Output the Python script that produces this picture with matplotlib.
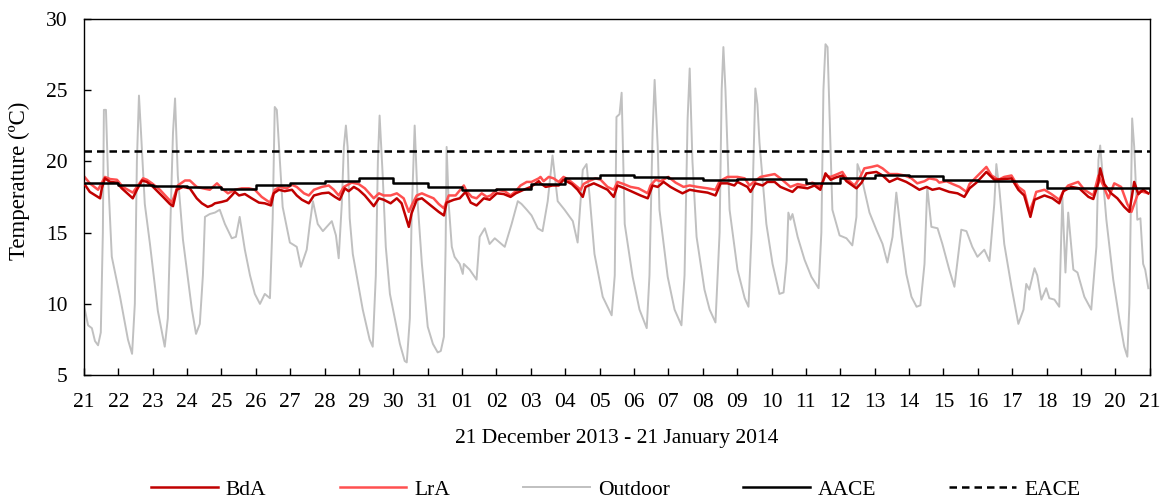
import matplotlib.pyplot as plt
import numpy as np

plt.rcParams["font.family"] = ["Liberation Serif", "DejaVu Serif"]

# time axis in days since 21 Dec 2013 00:00
tick_labels = ["21", "22", "23", "24", "25", "26", "27", "28", "29", "30", "31",
               "01", "02", "03", "04", "05", "06", "07", "08", "09", "10",
               "11", "12", "13", "14", "15", "16", "17", "18", "19", "20", "21"]

# Outdoor temperature (day, degC)
outdoor_day = [
    0.00, 0.12, 0.23, 0.32, 0.41, 0.49, 0.55, 0.58, 0.64, 0.70, 0.81, 1.05, 1.28, 1.40,
    1.48, 1.54, 1.60, 1.66, 1.77, 1.92, 2.15, 2.27, 2.35, 2.44, 2.53, 2.59, 2.65, 2.73,
    2.88, 3.14, 3.26, 3.37, 3.46, 3.52, 3.66, 3.81, 3.95, 4.10, 4.30, 4.42, 4.53, 4.68,
    4.83, 4.97, 5.12, 5.26, 5.41, 5.49, 5.55, 5.61, 5.70, 5.78, 5.99, 6.19, 6.31, 6.48,
    6.57, 6.66, 6.80, 6.95, 7.21, 7.33, 7.41, 7.50, 7.56, 7.62, 7.67, 7.73, 7.82, 8.11,
    8.31, 8.40, 8.49, 8.55, 8.60, 8.69, 8.78, 8.90, 9.19, 9.33, 9.39, 9.48, 9.53, 9.62,
    9.71, 9.83, 10.00, 10.15, 10.29, 10.38, 10.47, 10.52, 10.55, 10.61, 10.70, 10.78,
    10.93, 11.02, 11.05, 11.22, 11.42, 11.51, 11.66, 11.80, 11.95, 12.24, 12.44, 12.62,
    12.73, 12.88, 13.02, 13.20, 13.34, 13.49, 13.63, 13.78, 13.98, 14.22, 14.36, 14.51,
    14.62, 14.71, 14.85, 15.09, 15.35, 15.44, 15.49, 15.58, 15.64, 15.73, 15.96, 16.16,
    16.37, 16.45, 16.54, 16.60, 16.69, 16.74, 16.98, 17.18, 17.38, 17.47, 17.56, 17.62,
    17.70, 17.82, 18.05, 18.20, 18.37, 18.49, 18.55, 18.60, 18.66, 18.78, 19.01, 19.22,
    19.33, 19.42, 19.53, 19.59, 19.65, 19.85, 20.03, 20.23, 20.35, 20.44, 20.49, 20.55,
    20.61, 20.76, 20.96, 21.16, 21.37, 21.45, 21.51, 21.57, 21.63, 21.69, 21.77, 21.98,
    22.18, 22.35, 22.47, 22.50, 22.59, 22.70, 22.85, 23.05, 23.23, 23.37, 23.52, 23.63,
    23.78, 23.92, 24.07, 24.22, 24.33, 24.45, 24.53, 24.65, 24.83, 24.97, 25.17, 25.32,
    25.41, 25.52, 25.67, 25.84, 25.99, 26.19, 26.34, 26.48, 26.54, 26.63, 26.77, 26.98,
    27.18, 27.33, 27.41, 27.50, 27.65, 27.73, 27.85, 27.99, 28.08, 28.23, 28.37, 28.46,
    28.55, 28.63, 28.78, 28.90, 29.10, 29.30, 29.45, 29.51, 29.56, 29.74, 29.94, 30.12,
    30.26, 30.35, 30.41, 30.49, 30.55, 30.64, 30.73, 30.81, 30.87, 30.96]
outdoor_val = [
    9.9, 8.5, 8.3, 7.4, 7.1, 8.0, 15.0, 23.6, 23.6, 19.0, 13.3, 10.5, 7.5, 6.5,
    10.0, 20.0, 24.6, 22.0, 17.0, 14.2, 9.5, 8.0, 7.0, 9.0, 17.0, 22.0, 24.4, 19.0,
    14.5, 9.6, 7.9, 8.6, 12.0, 16.1, 16.3, 16.4, 16.6, 15.6, 14.6, 14.7, 16.1, 13.8,
    12.0, 10.7, 10.0, 10.7, 10.4, 16.0, 23.8, 23.6, 20.0, 16.8, 14.3, 14.0, 12.6, 13.8,
    15.6, 17.2, 15.6, 15.1, 15.8, 14.8, 13.2, 17.0, 21.0, 22.5, 21.0, 16.0, 13.5, 9.6,
    7.5, 7.0, 12.0, 20.0, 23.2, 19.0, 14.0, 10.7, 7.2, 6.0, 5.9, 9.0, 16.0, 22.5,
    17.0, 12.8, 8.4, 7.2, 6.6, 6.7, 7.7, 14.0, 21.0, 17.0, 14.0, 13.3,
    12.8, 12.1, 12.8, 12.4, 11.7, 14.7, 15.3, 14.2, 14.6, 14.0, 15.6, 17.2,
    17.0, 16.6, 16.2, 15.3, 15.1, 17.2, 20.4, 17.2, 16.6, 15.8, 14.3, 19.4,
    19.8, 17.5, 13.5, 10.5, 9.2, 12.0, 23.1, 23.3, 24.8, 15.6, 11.9, 9.6,
    8.3, 12.0, 22.0, 25.7, 21.0, 16.6, 11.9, 9.6, 8.5, 12.0, 23.0, 26.5,
    20.0, 14.7, 11.0, 9.6, 8.7, 15.0, 25.0, 28.0, 25.0, 16.6, 12.4, 10.4,
    9.8, 15.0, 25.1, 24.0, 21.3, 15.6, 12.8, 10.7, 10.8, 13.0, 16.4, 15.9,
    16.3, 14.7, 13.1, 11.9, 11.1, 15.0, 25.0, 28.2, 28.0, 23.0, 16.6, 14.8,
    14.6, 14.1, 16.1, 19.8, 19.2, 18.0, 16.4, 15.2, 14.2, 12.9, 14.7, 17.8,
    14.7, 12.1, 10.5, 9.8, 9.9, 12.8, 18.2, 15.4, 15.3, 14.2, 12.4, 11.2,
    13.0, 15.2, 15.1, 14.0, 13.3, 13.8, 13.0, 17.0, 19.8, 18.0, 14.2, 11.2,
    8.6, 9.6, 11.4, 11.0, 12.5, 12.0, 10.3, 11.1, 10.4, 10.3, 9.8, 17.5,
    12.2, 16.4, 12.4, 12.2, 10.5, 9.6, 14.0, 20.1, 21.1, 15.9, 11.7, 8.9,
    7.0, 6.3, 10.0, 23.0, 21.0, 15.9, 16.0, 12.8, 12.4, 11.1]

# LrA indoor temperature
lra_day = [
    0.00, 0.17, 0.41, 0.52, 0.61, 0.76, 0.96, 1.13, 1.42, 1.57, 1.72, 1.83, 1.98, 2.21,
    2.44, 2.56, 2.65, 2.73, 2.94, 3.08, 3.28, 3.46, 3.66, 3.87, 4.01, 4.19, 4.39, 4.59,
    4.80, 4.97, 5.17, 5.41, 5.55, 5.70, 5.90, 6.05, 6.19, 6.40, 6.54, 6.69, 6.92, 7.12,
    7.27, 7.41, 7.56, 7.79, 7.99, 8.17, 8.43, 8.58, 8.72, 8.92, 9.10, 9.30, 9.45, 9.53,
    9.68, 9.83, 9.97, 10.17, 10.32, 10.47, 10.61, 10.81, 11.05, 11.13, 11.28, 11.42,
    11.57, 11.72, 11.83, 12.01, 12.24, 12.41, 12.56, 12.70, 12.88, 13.02, 13.23, 13.28,
    13.37, 13.52, 13.66, 13.81, 13.95, 14.10, 14.30, 14.45, 14.53, 14.68, 14.88, 15.03,
    15.23, 15.41, 15.52, 15.70, 15.90, 16.13, 16.40, 16.48, 16.63, 16.77, 17.00, 17.21,
    17.44, 17.62, 17.85, 18.14, 18.37, 18.49, 18.72, 19.01, 19.22, 19.36, 19.51, 19.68,
    19.88, 20.09, 20.26, 20.55, 20.76, 20.96, 21.19, 21.42, 21.57, 21.72, 21.92, 22.06,
    22.18, 22.41, 22.56, 22.70, 22.91, 23.08, 23.23, 23.43, 23.66, 23.87, 24.07, 24.24,
    24.45, 24.59, 24.80, 24.88, 25.09, 25.27, 25.47, 25.67, 25.76, 25.96, 26.25, 26.40,
    26.60, 26.77, 26.98, 27.18, 27.35, 27.50, 27.62, 27.70, 27.94, 28.14, 28.37, 28.49,
    28.63, 28.92, 29.10, 29.36, 29.51, 29.65, 29.80, 29.97, 30.17, 30.35, 30.47, 30.64,
    30.73, 30.96]
lra_val = [
    18.95, 18.45, 18.0, 18.5, 18.9, 18.75, 18.7, 18.2, 17.8, 18.3, 18.8, 18.7, 18.45, 18.0,
    17.4, 17.1, 17.7, 18.3, 18.65, 18.65, 18.2, 18.1, 18.0, 18.45, 18.1, 17.75, 18.0, 18.1,
    18.1, 18.0, 17.5, 17.1, 18.0, 18.2, 18.1, 18.35, 18.2, 17.75, 17.6, 18.0, 18.2, 18.3,
    18.0, 17.6, 18.2, 18.5, 18.4, 18.1, 17.4, 17.75, 17.6, 17.6, 17.75, 17.4, 16.45, 16.9,
    17.6, 17.75, 17.6, 17.4, 17.0, 16.7, 17.6, 17.6, 18.3, 17.9, 17.5, 17.4,
    17.75, 17.5, 17.6, 18.0, 17.9, 17.6, 17.9, 18.3, 18.55, 18.55, 18.8, 18.9,
    18.6, 18.9, 18.8, 18.55, 18.9, 18.7, 18.3, 18.0, 18.4, 18.6, 18.8, 18.7,
    18.2, 18.0, 18.55, 18.4, 18.2, 18.1, 17.75, 18.3, 18.7, 18.6, 18.9, 18.5,
    18.2, 18.3, 18.2, 18.1, 18.0, 18.6, 18.9, 18.9, 18.8, 18.3, 18.6, 18.9,
    19.0, 19.1, 18.8, 18.2, 18.4, 18.3, 18.5, 18.2, 19.0, 18.9, 19.1, 19.25,
    18.8, 18.3, 18.8, 19.5, 19.6, 19.7, 19.5, 19.1, 19.1, 19.0, 18.8, 18.45,
    18.6, 18.8, 18.7, 18.5, 18.6, 18.4, 18.2, 17.85, 18.4, 18.9, 19.6, 19.0,
    18.7, 18.9, 19.0, 18.2, 17.9, 16.45, 17.2, 17.85, 18.0, 17.7, 17.3, 17.9,
    18.3, 18.55, 18.0, 17.6, 19.0, 18.3, 17.4, 18.45, 18.2, 17.0, 16.45, 17.6,
    17.9, 17.75]

# BdA indoor temperature
bda_day = [
    0.00, 0.17, 0.47, 0.52, 0.61, 0.76, 0.96, 1.10, 1.42, 1.54, 1.69, 1.83, 2.01, 2.30,
    2.50, 2.59, 2.70, 2.88, 3.08, 3.28, 3.43, 3.60, 3.72, 3.81, 4.01, 4.16, 4.30, 4.39,
    4.51, 4.68, 4.88, 5.09, 5.26, 5.44, 5.52, 5.67, 5.84, 6.05, 6.19, 6.34, 6.54, 6.69,
    6.92, 7.12, 7.30, 7.44, 7.59, 7.70, 7.85, 7.99, 8.17, 8.43, 8.58, 8.72, 8.92, 9.10,
    9.24, 9.45, 9.53, 9.68, 9.83, 10.09, 10.32, 10.47, 10.55, 10.76, 10.93, 11.10, 11.25,
    11.42, 11.63, 11.80, 12.01, 12.21, 12.41, 12.56, 12.79, 13.00, 13.23, 13.28, 13.43,
    13.63, 13.81, 13.95, 14.19, 14.36, 14.51, 14.59, 14.83, 14.97, 15.23, 15.41, 15.52,
    15.73, 15.96, 16.19, 16.40, 16.54, 16.69, 16.86, 17.06, 17.21, 17.41, 17.62, 17.85,
    18.14, 18.37, 18.52, 18.72, 18.92, 19.01, 19.30, 19.39, 19.53, 19.74, 19.88, 20.09,
    20.26, 20.61, 20.76, 21.05, 21.25, 21.42, 21.57, 21.72, 21.86, 22.06, 22.18, 22.47,
    22.62, 22.76, 23.05, 23.23, 23.43, 23.66, 23.92, 24.10, 24.30, 24.51, 24.68, 24.88,
    25.17, 25.41, 25.61, 25.76, 25.96, 26.25, 26.48, 26.77, 26.98, 27.18, 27.35, 27.53,
    27.65, 27.94, 28.17, 28.37, 28.49, 28.72, 28.95, 29.22, 29.36, 29.51, 29.56, 29.68,
    29.88, 30.06, 30.26, 30.41, 30.55, 30.67, 30.81, 30.96]
bda_val = [
    18.45, 17.85, 17.4, 18.1, 18.8, 18.55, 18.5, 18.1, 17.4, 18.0, 18.65, 18.55, 18.2, 17.5,
    17.0, 16.85, 18.0, 18.2, 18.1, 17.4, 17.05, 16.8, 16.9, 17.05, 17.15, 17.25, 17.6, 17.85,
    17.6, 17.7, 17.4, 17.1, 17.05, 16.9, 17.75, 18.0, 17.9, 18.0, 17.6, 17.3, 17.05, 17.6,
    17.75, 17.8, 17.5, 17.3, 18.1, 17.9, 18.2, 18.0, 17.6, 16.85, 17.4, 17.3, 17.05, 17.4,
    17.05, 15.4, 16.35, 17.3, 17.4, 16.9, 16.45, 16.2, 17.1, 17.3, 17.4, 17.85, 17.1,
    16.9, 17.4, 17.3, 17.75, 17.7, 17.5, 17.75, 18.0, 18.2, 18.6, 18.45, 18.2,
    18.3, 18.3, 18.7, 18.4, 18.0, 17.5, 18.2, 18.45, 18.3, 18.0, 17.5, 18.3,
    18.1, 17.85, 17.6, 17.4, 18.3, 18.2, 18.55, 18.2, 18.0, 17.75, 18.0, 17.9,
    17.8, 17.6, 18.45, 18.45, 18.3, 18.55, 18.2, 17.85, 18.45, 18.3, 18.55, 18.55,
    18.2, 17.85, 18.2, 18.1, 18.3, 18.0, 19.15, 18.7, 18.85, 19.0, 18.6, 18.1,
    18.5, 19.15, 19.25, 19.0, 18.55, 18.8, 18.55, 18.3, 18.0, 18.2, 18.0, 18.1,
    17.85, 17.75, 17.5, 18.1, 18.5, 19.25, 18.7, 18.75, 18.8, 18.0, 17.6, 16.1,
    17.3, 17.6, 17.4, 17.05, 17.9, 18.2, 18.1, 17.5, 17.35, 18.5, 19.5, 18.4,
    17.75, 17.4, 16.8, 16.45, 18.55, 17.7, 18.0, 17.75]

# AACE: one value per day (step line)
aace_daily = [18.45, 18.3, 18.25, 18.2, 18.05, 18.3, 18.5, 18.6, 18.8, 18.5, 18.2,
              18.0, 18.05, 18.4, 18.8, 19.0, 18.9, 18.8, 18.7, 18.75, 18.75, 18.5,
              18.8, 19.0, 18.95, 18.7, 18.6, 18.6, 18.1, 18.1, 18.1]
eace_value = 20.7

fs = 15.5

fig = plt.figure(figsize=(11.66, 5.01), dpi=100)
ax = fig.add_axes([0.072, 0.251, 0.914, 0.712])

ax.plot(outdoor_day, outdoor_val, color="#C0C0C0", linewidth=1.4, label="Outdoor", zorder=1)
ax.plot(lra_day, lra_val, color="#FF5050", linewidth=1.8, label="LrA", zorder=2)
ax.plot(bda_day, bda_val, color="#C00000", linewidth=1.8, label="BdA", zorder=3)
aace_x = np.arange(len(aace_daily) + 1)
aace_y = aace_daily + [aace_daily[-1] - 0.2]
ax.step(aace_x, aace_y, where="post", color="black", linewidth=1.8, label="AACE", zorder=4)
ax.axhline(eace_value, color="black", linestyle=(0, (3, 2)), linewidth=1.8, label="EACE", zorder=4)

ax.set_xlim(0, 31)
ax.set_ylim(5, 30)
ax.set_xticks(np.arange(32))
ax.set_xticklabels(tick_labels)
ax.set_yticks(np.arange(5, 31, 5))
ax.tick_params(direction="in", length=5, labelsize=fs, width=1)
ax.tick_params(axis="x", pad=13)
ax.tick_params(axis="y", pad=12)
for s in ax.spines.values():
    s.set_linewidth(1.0)

ax.set_ylabel("Temperature (ºC)", fontsize=16.5)
ax.yaxis.set_label_coords(-0.051, 0.545)
ax.set_xlabel("21 December 2013 - 21 January 2014", fontsize=fs, labelpad=12)

handles, labels = ax.get_legend_handles_labels()
order = ["BdA", "LrA", "Outdoor", "AACE", "EACE"]
hmap = dict(zip(labels, handles))
fig.legend([hmap[k] for k in order], order, loc="center", bbox_to_anchor=(0.528, 0.022),
           ncol=5, frameon=False, fontsize=fs, handlelength=3.1, handletextpad=0.37,
           columnspacing=3.4)

fig.savefig("out.png", dpi=100)
